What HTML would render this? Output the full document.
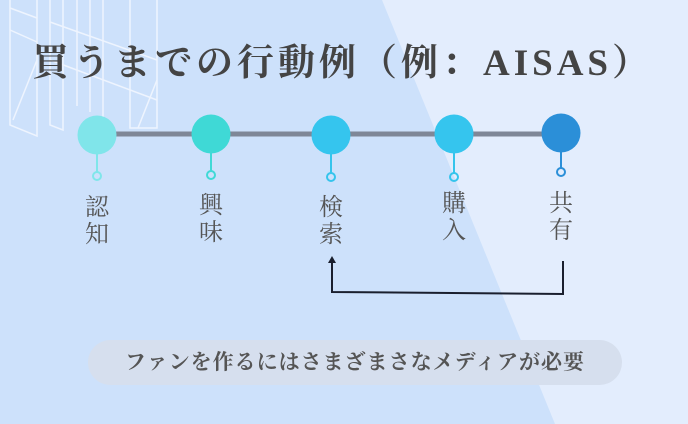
<!DOCTYPE html><html><head><meta charset="utf-8"><style>
body{margin:0}
#c{position:relative;width:688px;height:424px;overflow:hidden;background:#e3edfd;font-family:"Liberation Serif","Noto Serif CJK SC",serif}
.t{position:absolute;font-size:24px;color:#555;line-height:27px;width:30px;text-align:center}
</style></head><body><div id="c">
<svg width="688" height="424" style="position:absolute;left:0;top:0">
<polygon points="0,0 382,0 555,424 0,424" fill="#cde1fb"/>
<g stroke="#f2f7ff" stroke-width="1.5" fill="none" opacity="0.9">
<polyline points="10,0 10,125 37,136 37,0"/>
<polyline points="50,0 50,125 63,130 63,0"/>
<polyline points="77,0 77,106"/>
<polyline points="90,0 90,112"/>
<polyline points="103,0 103,117"/>
<polyline points="130,0 130,128 157,128 157,0"/>
<line x1="10" y1="8" x2="37" y2="18"/><line x1="10" y1="30" x2="37" y2="42"/>
<line x1="50" y1="22" x2="157" y2="60"/><line x1="50" y1="60" x2="157" y2="100"/>
<line x1="13" y1="120" x2="37" y2="60"/><line x1="138" y1="128" x2="157" y2="80"/>
</g>
<line x1="97" y1="134" x2="561" y2="134" stroke="#7f8797" stroke-width="5"/>
<g stroke-width="2" fill="none">
<line x1="97" y1="150" x2="97" y2="172" stroke="#7fe6ea"/><circle cx="97" cy="176" r="4" stroke="#7fe6ea"/>
<line x1="211" y1="150" x2="211" y2="172" stroke="#40d9d6"/><circle cx="211" cy="175" r="4" stroke="#40d9d6"/>
<line x1="331" y1="150" x2="331" y2="173" stroke="#35c4ec"/><circle cx="331" cy="177" r="4" stroke="#35c4ec"/>
<line x1="454" y1="150" x2="454" y2="173" stroke="#35c4ec"/><circle cx="454" cy="177" r="4" stroke="#35c4ec"/>
<line x1="561" y1="150" x2="561" y2="168" stroke="#2b8fd8"/><circle cx="561" cy="172" r="4" stroke="#2b8fd8"/>
</g>
<circle cx="97" cy="135" r="19.5" fill="#80e5ea"/>
<circle cx="211" cy="134" r="19.5" fill="#3fd9d6"/>
<circle cx="331" cy="135" r="19.5" fill="#35c5ee"/>
<circle cx="454" cy="134" r="19.5" fill="#35c5ee"/>
<circle cx="561" cy="133" r="19.5" fill="#2b8fd8"/>
<polyline points="563,261 563,294 332,292 332,262" stroke="#1a1f2e" stroke-width="2" fill="none"/>
<polygon points="328,263 336,263 332,256" fill="#1a1f2e"/>
<rect x="88" y="340" width="534" height="45" rx="22.5" fill="#d6dfee"/>
</svg>
<div style="position:absolute;left:32px;top:32px;font-size:37px;font-weight:bold;color:#444;letter-spacing:4px;white-space:nowrap">買うまでの行動例（例：AISAS）</div>
<div class="t" style="left:82px;top:195px">認<br>知</div>
<div class="t" style="left:196px;top:193px">興<br>味</div>
<div class="t" style="left:316px;top:195px">検<br>索</div>
<div class="t" style="left:439px;top:191px">購<br>入</div>
<div class="t" style="left:546px;top:191px">共<br>有</div>
<div style="position:absolute;left:88px;top:340px;width:534px;height:45px;line-height:45px;text-align:center;font-size:21px;font-weight:bold;color:#555;letter-spacing:1px">ファンを作るにはさまざまさなメディアが必要</div>
</div></body></html>
